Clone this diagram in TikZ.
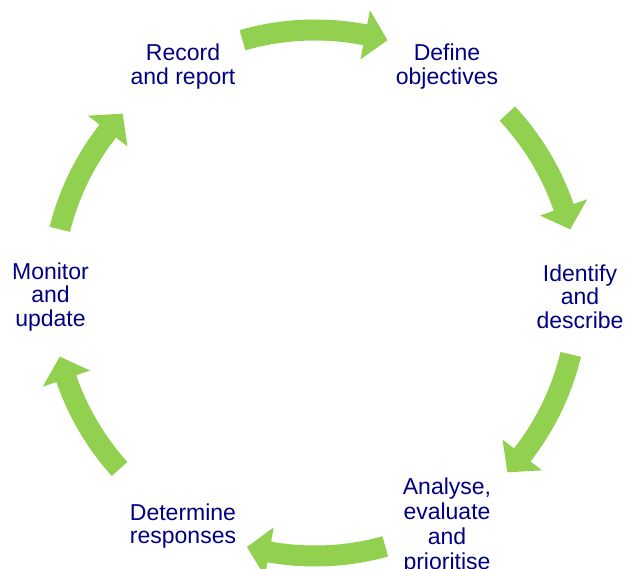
\documentclass[tikz,border=0pt]{standalone}
\usepackage{fontspec}
\setmainfont{Liberation Sans}
\definecolor{cyclegreen}{RGB}{146,208,80}
\definecolor{labelnavy}{RGB}{0,0,128}
\tikzset{
  steplabel/.style={align=center, text=labelnavy, inner sep=0pt,
    font=\fontsize{23pt}{23.5pt}\selectfont, anchor=base},
}
% clockwise curved block arrow on the cycle circle: #1 tail angle, #2 tip angle
\newcommand\cyclearrow[2]{%
  \pgfmathsetmacro\headbase{#2+5}%
  \fill[cyclegreen] (#1:273.5pt) arc[start angle=#1, end angle=\headbase, radius=273.5pt]
    -- (\headbase:288pt) -- (#2:263pt) -- (\headbase:238pt)
    -- (\headbase:252.5pt) arc[start angle=\headbase, end angle=#1, radius=252.5pt] -- cycle;
}
\begin{document}
\begin{tikzpicture}
\useasboundingbox (0,0) rectangle (626pt,-569pt);
\clip (0,0) rectangle (626pt,-569pt);
\fill[white] (0,0) rectangle (626pt,-569pt);

% step labels (placed by the baseline of their last line)
\node[steplabel] (record)    at (183pt,-84.5pt)  {Record\\and report};
\node[steplabel] (define)    at (447pt,-84.5pt)  {Define\\objectives};
\node[steplabel] (identify)  at (580pt,-328pt)   {Identify\\and\\describe};
\node[steplabel, font=\fontsize{23pt}{25pt}\selectfont]
                 (analyse)   at (447pt,-569pt)   {Analyse,\\evaluate\\and\\prioritise};
\node[steplabel] (determine) at (183pt,-543.5pt) {Determine\\responses};
\node[steplabel] (monitor)   at (50.5pt,-326pt)  {Monitor\\and\\update};

% arrows of the cycle
\begin{scope}[shift={(315pt,-293pt)}]
  \cyclearrow{106}{74}
  \cyclearrow{43}{14}
  \cyclearrow{-13.5}{-43}
  \cyclearrow{-74.5}{-105}
  \cyclearrow{-138}{-166}
  \cyclearrow{166}{137}
\end{scope}
\end{tikzpicture}
\end{document}
